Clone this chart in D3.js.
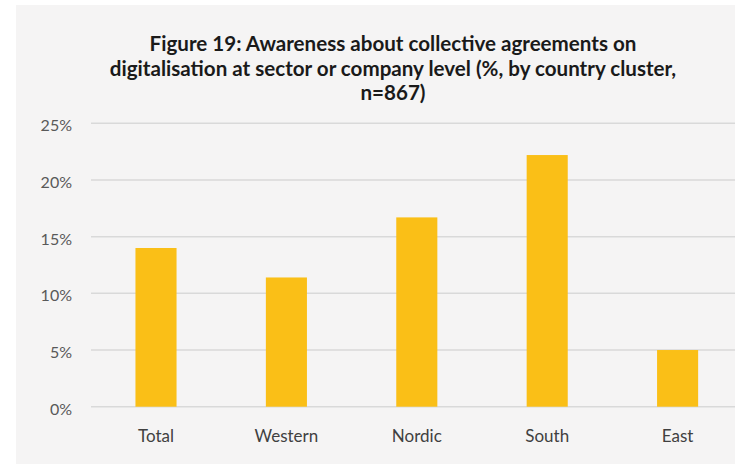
<!DOCTYPE html>
<html><head><meta charset="utf-8">
<script src="https://cdn.jsdelivr.net/npm/d3@7"></script>
<style>html,body{margin:0;padding:0;background:#fff;}svg{display:block;}</style>
</head><body>
<svg id="c" width="735" height="464"></svg>
<script>
const titleLines = ["Figure 19: Awareness about collective agreements on","digitalisation at sector or company level (%, by country cluster,","n=867)"];
const categories = ["Total","Western","Nordic","South","East"];
const values = [14.0, 11.4, 16.7, 22.2, 5.0];
const yTicks = [0,5,10,15,20,25];

const FONT = "Lato, 'Open Sans', sans-serif";
const svg = d3.select("#c");
svg.append("rect").attr("x",16).attr("y",5).attr("width",735-16).attr("height",464-5).attr("fill","#f5f4f4");

const x = d3.scaleBand().domain(categories).range([90.8, 742.8]).paddingInner(0.685).paddingOuter(0.3425);
const y = d3.scaleLinear().domain([0,25]).range([406.7,123.3]);

// gridlines
svg.append("g").selectAll("line").data(yTicks).join("line")
  .attr("x1",91).attr("x2",735).attr("y1",d=>y(d)).attr("y2",d=>y(d))
  .attr("stroke","#d9d9d9").attr("stroke-width",1.5);

// y axis labels
const yAxis = d3.axisLeft(y).tickValues(yTicks).tickFormat(d=>d+"%").tickSize(0).tickPadding(0);
const ga = svg.append("g").attr("transform","translate(72,0)").call(yAxis);
ga.select(".domain").remove();
ga.selectAll("text").attr("font-family",FONT).attr("font-size",16).attr("fill","#595959")
  .attr("dy",null).attr("y",7.5);

// bars
svg.append("g").selectAll("rect").data(values).join("rect")
  .attr("x",(d,i)=>x(categories[i])).attr("width",x.bandwidth())
  .attr("y",d=>y(d)).attr("height",d=>y(0)-y(d)).attr("fill","#fabf17");

// x axis labels
const xAxis = d3.axisBottom(x).tickSize(0).tickPadding(0);
const gx = svg.append("g").attr("transform","translate(0,441.7)").call(xAxis);
gx.select(".domain").remove();
gx.selectAll("text").attr("font-family",FONT).attr("font-size",17).attr("fill","#404040")
  .attr("dy",null).attr("y",0);

// title
const tg = svg.append("g");
const tY = [51, 75.5, 100];
titleLines.forEach((t,i)=>{
  tg.append("text").attr("x",393).attr("y",tY[i]).attr("text-anchor","middle")
    .attr("font-family",FONT).attr("font-weight","bold").attr("font-size",18)
    .attr("fill","#1a1a1a").text(t);
});
// fit title width to reference (line 1 ~487px)
const first = tg.select("text").node();
const w = first.getComputedTextLength();
const fs = 18*487/w;
tg.selectAll("text").attr("font-size",fs);
</script>
</body></html>
